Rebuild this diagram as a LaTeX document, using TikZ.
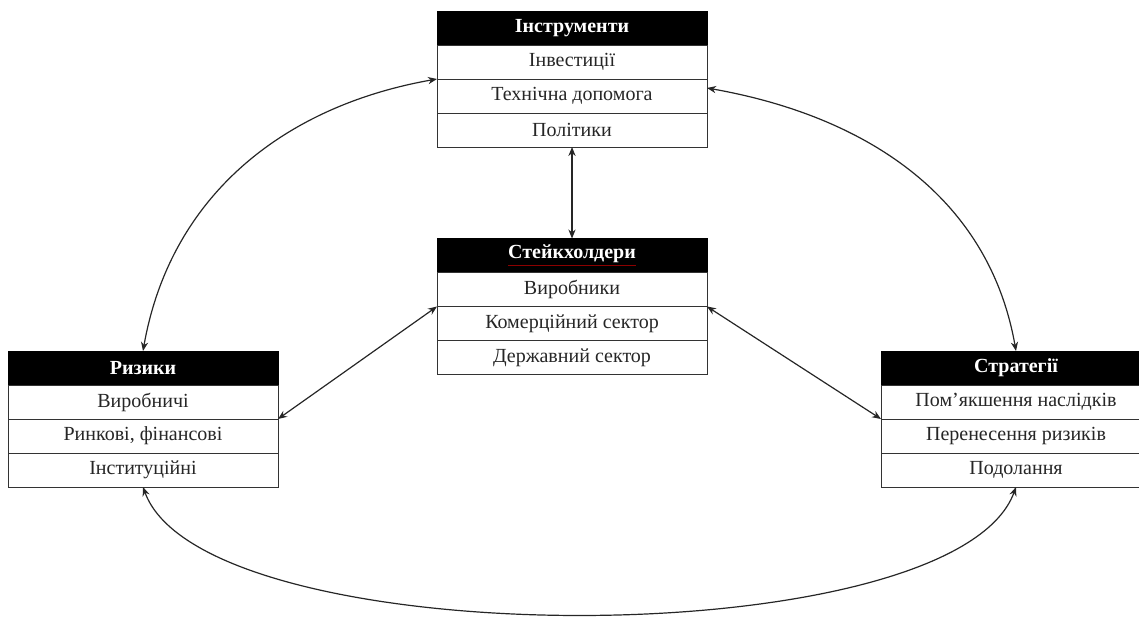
\documentclass[tikz,border=0pt]{standalone}
\usepackage{fontspec}
\setmainfont{Liberation Serif}
\usetikzlibrary{arrows.meta,positioning}

\begin{document}
\begin{tikzpicture}[x=0.5pt, y=0.5pt,
  >={Stealth[length=4.5pt,width=3.6pt]},
  head/.style={draw=black, fill=black, text=white, font=\bfseries,
    minimum width=135pt, minimum height=17pt, inner sep=0pt, outer sep=0pt},
  item/.style={draw=black!80, fill=white, text=black!85,
    minimum width=135pt, minimum height=17pt, inner sep=0pt, outer sep=0pt},
  link/.style={<->, line width=0.6pt, black!85}
]
  \useasboundingbox (0,0) rectangle (1139,618);

  % Instruments (top)
  \node[head] (instr) at (572,590) {Інструменти};
  \node[item, below=0pt of instr] (instr1) {Інвестиції};
  \node[item, below=0pt of instr1] (instr2) {Технічна допомога};
  \node[item, below=0pt of instr2] (instr3) {Політики};

  % Stakeholders (centre)
  \node[head] (stake) at (572,362.5) {{\color{red!55!black}\underline{\color{white}Стейкхолдери}}};
  \node[item, below=0pt of stake] (stake1) {Виробники};
  \node[item, below=0pt of stake1] (stake2) {Комерційний сектор};
  \node[item, below=0pt of stake2] (stake3) {Державний сектор};

  % Risks (left)
  \node[head] (risk) at (143,250) {Ризики};
  \node[item, below=0pt of risk] (risk1) {Виробничі};
  \node[item, below=0pt of risk1] (risk2) {Ринкові, фінансові};
  \node[item, below=0pt of risk2] (risk3) {Інституційні};

  % Strategies (right)
  \node[head] (strat) at (1016,250) {Стратегії};
  \node[item, below=0pt of strat] (strat1) {Пом’якшення наслідків};
  \node[item, below=0pt of strat1] (strat2) {Перенесення ризиків};
  \node[item, below=0pt of strat2] (strat3) {Подолання};

  % Links
  \draw[link] (instr3.south) -- (stake.north);
  \draw[link] (stake1.south west) -- (risk1.south east);
  \draw[link] (stake1.south east) -- (strat1.south west);
  \draw[link] (instr1.south west) to[out=190, in=80] (risk.north);
  \draw[link] ([yshift=-4.5pt]instr2.north east) to[out=-10, in=100] (strat.north);
  \draw[link] (risk3.south) to[out=-70, in=-110, looseness=0.53] (strat3.south);

\end{tikzpicture}
\end{document}
